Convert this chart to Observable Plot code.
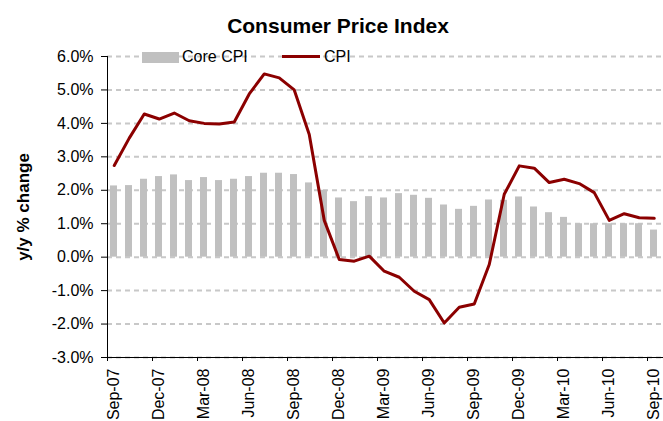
<!DOCTYPE html>
<html>
<head>
<meta charset="utf-8">
<script src="https://cdn.jsdelivr.net/npm/d3@7"></script>
<script src="https://cdn.jsdelivr.net/npm/@observablehq/plot@0.6"></script>
<style>
  body { margin: 0; background: #fff; font-family: "Liberation Sans", Arial, sans-serif; color: #000; }
  #wrap { position: relative; width: 663px; height: 421px; overflow: hidden; background: #fff; }
  #title { height: 40px; box-sizing: border-box; padding-top: 15px; padding-left: 13px; font-size: 21px; line-height: 21px; font-weight: bold; text-align: center; white-space: nowrap; }
  .lg { position: absolute; }
  .lgtext { position: absolute; top: 49px; font-size: 16px; line-height: 16px; white-space: nowrap; }
  #chart svg { display: block; }
  #chart g[aria-label="y-axis label"] text { font-weight: bold; }
</style>
</head>
<body>
<div id="wrap">
  <div id="title">Consumer Price Index</div>
  <div id="chart"></div>
  <div class="lg" style="left:142px;top:52px;width:37px;height:11px;background:#c0c0c0;"></div>
  <div class="lgtext" style="left:182px;">Core CPI</div>
  <div class="lg" style="left:282px;top:55px;width:38px;height:3px;background:#8b0000;"></div>
  <div class="lgtext" style="left:324px;">CPI</div>
</div>
<script>
// Months (categories)
const months = [
  "Sep-07","Oct-07","Nov-07","Dec-07","Jan-08","Feb-08","Mar-08","Apr-08","May-08","Jun-08","Jul-08","Aug-08","Sep-08",
  "Oct-08","Nov-08","Dec-08","Jan-09","Feb-09","Mar-09","Apr-09","May-09","Jun-09","Jul-09","Aug-09","Sep-09",
  "Oct-09","Nov-09","Dec-09","Jan-10","Feb-10","Mar-10","Apr-10","May-10","Jun-10","Jul-10","Aug-10","Sep-10"
];
// Core CPI, y/y % change (bars)
const coreCPI = [
  2.13,2.14,2.33,2.41,2.46,2.29,2.38,2.29,2.33,2.41,2.51,2.51,2.47,
  2.22,2.0,1.77,1.66,1.81,1.77,1.9,1.85,1.76,1.56,1.43,1.52,
  1.71,1.7,1.8,1.5,1.33,1.19,1.0,1.0,1.0,1.0,1.0,0.81
];
// CPI, y/y % change (line)
const cpi = [
  2.74,3.56,4.28,4.13,4.31,4.08,4.0,3.98,4.04,4.88,5.48,5.36,5.0,
  3.67,1.1,-0.07,-0.12,0.03,-0.42,-0.6,-1.02,-1.27,-1.97,-1.5,-1.4,
  -0.22,1.88,2.73,2.66,2.23,2.33,2.2,1.93,1.1,1.3,1.18,1.16
];
// Axis ticks
const yTicks = [-3,-2,-1,0,1,2,3,4,5,6];
const xTickLabels = ["Sep-07","Dec-07","Mar-08","Jun-08","Sep-08","Dec-08","Mar-09","Jun-09","Sep-09","Dec-09","Mar-10","Jun-10","Sep-10"];

const rows = months.map((m, i) => ({i, month: m, core: coreCPI[i], cpi: cpi[i]}));
const tickPos = xTickLabels.map(l => months.indexOf(l));
const labelPos = tickPos.map(p => p + 0.4);

const chart = Plot.plot({
  width: 663,
  height: 381,
  marginTop: 16,
  marginBottom: 64,
  marginLeft: 107,
  marginRight: 0,
  x: {domain: [0, months.length], range: [107, 107 + months.length * 15.0]},
  y: {domain: [-3, 6]},
  style: {fontFamily: "'Liberation Sans', Arial, sans-serif", fontSize: "16px", color: "#000", background: "#fff"},
  marks: [
    Plot.gridY(yTicks, {stroke: "#c8c8c8", strokeOpacity: 1, strokeWidth: 2, strokeDasharray: "5,4"}),
    Plot.rect(rows, {x1: "i", x2: d => d.i + 1, y1: 0, y2: "core", fill: "#c0c0c0", insetLeft: 3, insetRight: 5}),
    Plot.line(rows, {x: d => d.i + 0.45, y: "cpi", stroke: "#8b0000", strokeWidth: 3, strokeLinejoin: "round"}),
    Plot.ruleX([0], {stroke: "#000", strokeWidth: 1}),
    Plot.ruleY([-3], {stroke: "#000", strokeWidth: 1}),
    Plot.axisY(yTicks, {tickSize: 6, tickPadding: 8, tickFormat: d => d.toFixed(1) + "%", label: null, fontSize: 16}),
    Plot.axisY({ticks: [], label: "y/y % change", labelAnchor: "center", labelOffset: 91, labelArrow: "none", fontSize: 17}),
    Plot.axisX(tickPos, {tickSize: 4, tickFormat: () => "", label: null}),
    Plot.axisX(labelPos, {tickSize: 0, tickPadding: 11, tickRotate: -90, tickFormat: d => months[Math.floor(d)], label: null, fontSize: 16})
  ]
});
document.getElementById("chart").appendChild(chart);
</script>
</body>
</html>
